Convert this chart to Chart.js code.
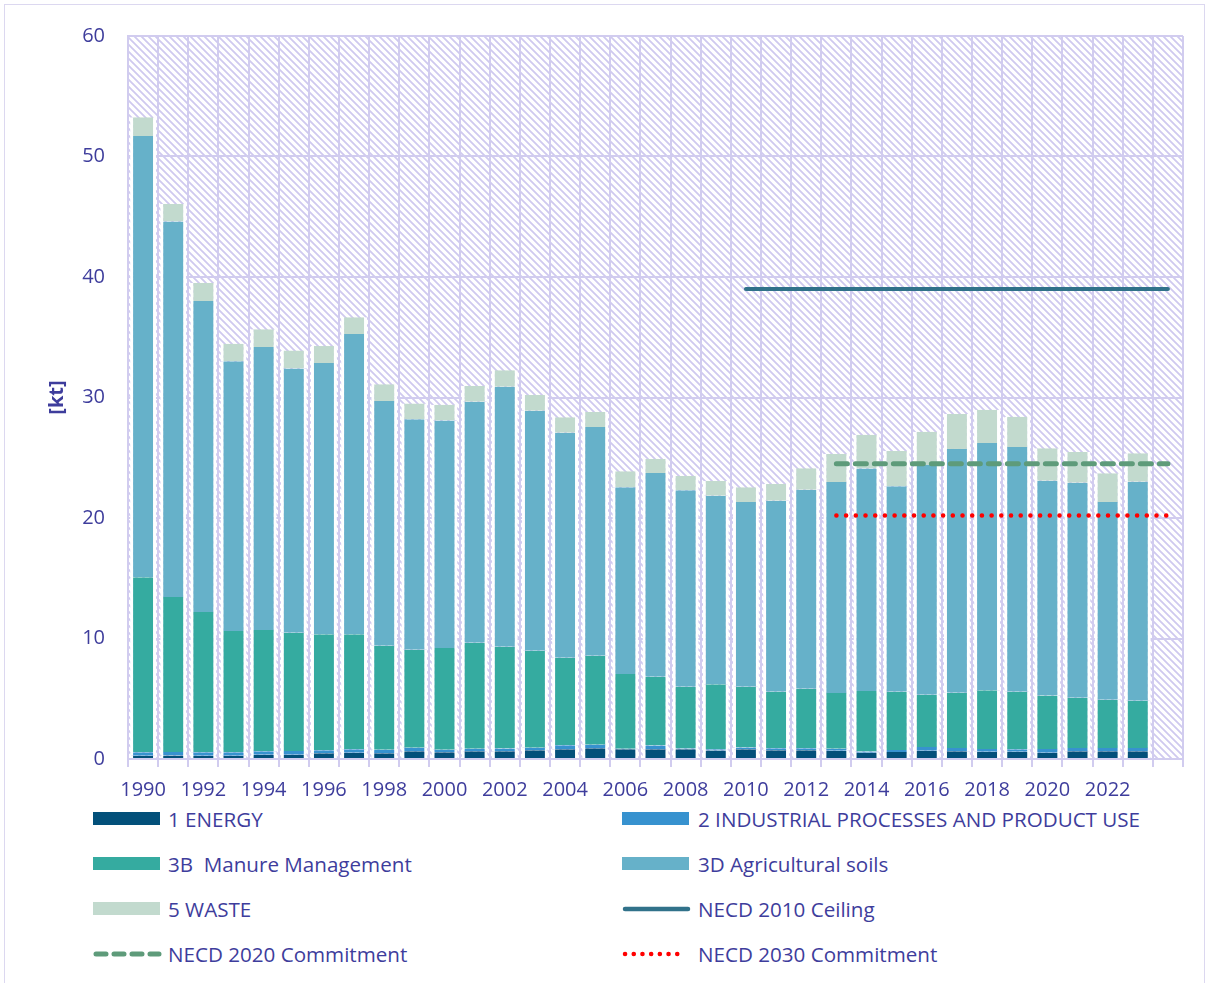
<!DOCTYPE html>
<html>
<head>
<meta charset="utf-8">
<script src="https://cdn.jsdelivr.net/npm/chart.js@4.4.1/dist/chart.umd.min.js"></script>
<style>
  body { margin: 0; background: #fff; font-family: "Open Sans", sans-serif; }
  #frame { position: absolute; left: 4px; top: 4px; width: 1199px; height: 990px; border: 1px solid #dcd8f0; }
  #wrap { position: absolute; left: 0; top: 0; width: 1208px; height: 800px; }
  .item { position: absolute; height: 30px; }
  .item .mark { position: absolute; left: 0; top: 8px; }
  .item span { position: absolute; top: 0; line-height: 30px; font-size: 20.6px; color: #3e3d9c; white-space: pre; }
</style>
</head>
<body>
<div id="frame"></div>
<div id="wrap"><canvas id="chart"></canvas></div>
<div id="legend"></div>
<script>
var years = ['1990','1991','1992','1993','1994','1995','1996','1997','1998','1999',
  '2000','2001','2002','2003','2004','2005','2006','2007','2008','2009',
  '2010','2011','2012','2013','2014','2015','2016','2017','2018','2019',
  '2020','2021','2022','2023',''];

// kt
var energy = [0.27,0.30,0.27,0.27,0.36,0.36,0.47,0.52,0.48,0.65,
  0.56,0.65,0.65,0.73,0.81,0.90,0.81,0.81,0.81,0.70,
  0.81,0.73,0.73,0.68,0.52,0.58,0.69,0.64,0.61,0.61,
  0.52,0.64,0.64,0.64];
var industry = [0.28,0.28,0.28,0.30,0.28,0.30,0.25,0.28,0.28,0.28,
  0.20,0.20,0.22,0.20,0.33,0.28,0.05,0.30,0.06,0.10,
  0.14,0.17,0.17,0.17,0.11,0.17,0.30,0.28,0.22,0.20,
  0.30,0.28,0.28,0.28];
var manure = [14.53,12.86,11.65,10.05,10.06,9.82,9.63,9.55,8.64,8.14,
  8.45,8.80,8.45,8.06,7.27,7.39,6.19,5.72,5.13,5.40,
  5.05,4.69,4.94,4.63,5.01,4.84,4.35,4.58,4.87,4.78,
  4.44,4.17,4.00,3.92];
var soils = [36.62,31.16,25.80,22.38,23.49,21.92,22.51,24.92,20.30,19.13,
  18.89,20.00,21.58,19.91,18.67,18.98,15.50,16.90,16.30,15.65,
  15.33,15.85,16.51,17.51,18.46,17.04,19.06,20.23,20.52,20.31,
  17.84,17.84,16.41,18.17];
var waste = [1.55,1.46,1.50,1.47,1.47,1.50,1.41,1.38,1.40,1.30,
  1.30,1.30,1.36,1.30,1.28,1.25,1.33,1.17,1.19,1.22,
  1.22,1.38,1.77,2.32,2.80,2.93,2.76,2.90,2.77,2.51,
  2.68,2.55,2.38,2.36];

var ceiling2010 = [null,null,null,null,null,null,null,null,null,null,
  null,null,null,null,null,null,null,null,null,null,
  39,39,39,39,39,39,39,39,39,39,39,39,39,39,39];
var commit2020 = [null,null,null,null,null,null,null,null,null,null,
  null,null,null,null,null,null,null,null,null,null,
  null,null,null,24.5,24.5,24.5,24.5,24.5,24.5,24.5,24.5,24.5,24.5,24.5,24.5];
var commit2030 = [null,null,null,null,null,null,null,null,null,null,
  null,null,null,null,null,null,null,null,null,null,
  null,null,null,20.2,20.2,20.2,20.2,20.2,20.2,20.2,20.2,20.2,20.2,20.2,20.2];

var yTicks = [0, 10, 20, 30, 40, 50, 60];

var textColor = '#3e3d9c';
var gridColor = '#d1ccef';

function barSet(label, data, color) {
  return {
    type: 'bar', label: label, data: data, backgroundColor: color,
    borderColor: '#ffffff', borderWidth: {left: 3, right: 3, top: 0, bottom: 0},
    borderSkipped: false, stack: 'bars', order: 2,
    categoryPercentage: 1, barPercentage: 0.86
  };
}

function lineSet(label, data, color, width, dash, stack) {
  return {
    type: 'line', label: label, data: data, borderColor: color, borderWidth: width,
    borderDash: dash, borderCapStyle: 'round', pointRadius: 0, fill: false,
    spanGaps: false, stack: stack, order: 0
  };
}

var hatchPlugin = {
  id: 'hatch',
  beforeDraw: function(chart) {
    var a = chart.chartArea, ctx = chart.ctx;
    var tile = document.createElement('canvas');
    tile.width = 7; tile.height = 7;
    var t = tile.getContext('2d');
    t.strokeStyle = '#cfc9ef';
    t.lineWidth = 1.8;
    t.beginPath();
    t.moveTo(-1, -1); t.lineTo(8, 8);
    t.moveTo(-1, 6); t.lineTo(1, 8);
    t.moveTo(6, -1); t.lineTo(8, 1);
    t.stroke();
    ctx.save();
    ctx.fillStyle = ctx.createPattern(tile, 'repeat');
    ctx.fillRect(a.left, a.top, a.right - a.left, a.bottom - a.top);
    ctx.restore();
  }
};

var ctx = document.getElementById('chart').getContext('2d');
var myChart = new Chart(ctx, {
  data: {
    labels: years,
    datasets: [
      barSet('1 ENERGY', energy, '#03507a'),
      barSet('2 INDUSTRIAL PROCESSES AND PRODUCT USE', industry, '#3792cf'),
      barSet('3B  Manure Management', manure, '#35aba0'),
      barSet('3D Agricultural soils', soils, '#66b1c9'),
      barSet('5 WASTE', waste, '#c2dace'),
      lineSet('NECD 2010 Ceiling', ceiling2010, '#31728a', 4, [], 'l1'),
      lineSet('NECD 2020 Commitment', commit2020, '#5e9b7a', 5, [11, 8], 'l2'),
      lineSet('NECD 2030 Commitment', commit2030, '#ff0000', 4.5, [0.1, 9.6], 'l3')
    ]
  },
  options: {
    responsive: true,
    maintainAspectRatio: false,
    animation: false,
    layout: { padding: { top: 36, right: 25, left: 0, bottom: 0 } },
    plugins: { legend: { display: false }, tooltip: { enabled: false } },
    scales: {
      x: {
        stacked: true,
        grid: { color: gridColor, lineWidth: 2, offset: true, tickLength: 8, drawTicks: true },
        border: { color: gridColor, width: 2 },
        ticks: {
          autoSkip: false, maxRotation: 0, padding: 11, color: textColor,
          font: { family: 'Open Sans', size: 20 },
          callback: function(v, i) { return i % 2 === 0 ? years[i] : ''; }
        },
        afterFit: function(scale) { scale.height = 41; }
      },
      y: {
        stacked: true,
        min: 0, max: 60,
        afterBuildTicks: function(scale) {
          scale.ticks = yTicks.map(function(v) { return { value: v }; });
        },
        grid: { color: gridColor, lineWidth: 2, drawTicks: false },
        border: { color: gridColor, width: 2 },
        ticks: { padding: 23, color: textColor, font: { family: 'Open Sans', size: 20 } },
        title: {
          display: true, text: '[kt]', color: textColor,
          font: { family: 'Open Sans', size: 20, weight: 'bold' },
          padding: { top: 45, bottom: 0 }
        },
        afterFit: function(scale) { scale.width = 128; }
      }
    }
  },
  plugins: [hatchPlugin]
});

// legend in two columns, same order as the datasets
var legendRows = [
  { x: 93, y: 804, kind: 'box', color: '#03507a', ds: 0 },
  { x: 622, y: 804, kind: 'box', color: '#3792cf', ds: 1 },
  { x: 93, y: 849, kind: 'box', color: '#35aba0', ds: 2 },
  { x: 622, y: 849, kind: 'box', color: '#66b1c9', ds: 3 },
  { x: 93, y: 894, kind: 'box', color: '#c2dace', ds: 4 },
  { x: 622, y: 894, kind: 'solid', color: '#31728a', ds: 5 },
  { x: 93, y: 939, kind: 'dash', color: '#5e9b7a', ds: 6 },
  { x: 622, y: 939, kind: 'dot', color: '#ff0000', ds: 7 }
];

var html = '';
for (var i = 0; i < legendRows.length; i++) {
  var r = legendRows[i];
  var mark;
  if (r.kind === 'box') {
    mark = '<div class="mark" style="width:67px;height:13px;background:' + r.color + '"></div>';
  } else {
    var dash = r.kind === 'dash' ? 'stroke-dasharray="10 8"' : (r.kind === 'dot' ? 'stroke-dasharray="0.1 8.6"' : '');
    var w = r.kind === 'dash' ? 5 : 4.5;
    mark = '<svg class="mark" width="70" height="14" style="top:8px"><line x1="3" y1="7" x2="' + (r.kind === 'dot' ? 58 : 66) +
      '" y2="7" stroke="' + r.color + '" stroke-width="' + w + '" stroke-linecap="round" ' + dash + '/></svg>';
  }
  html += '<div class="item" style="left:' + r.x + 'px;top:' + r.y + 'px">' + mark +
    '<span style="left:' + (r.x === 93 ? 75 : 76) + 'px">' + myChart.data.datasets[r.ds].label + '</span></div>';
}
document.getElementById('legend').innerHTML = html;
</script>
</body>
</html>
